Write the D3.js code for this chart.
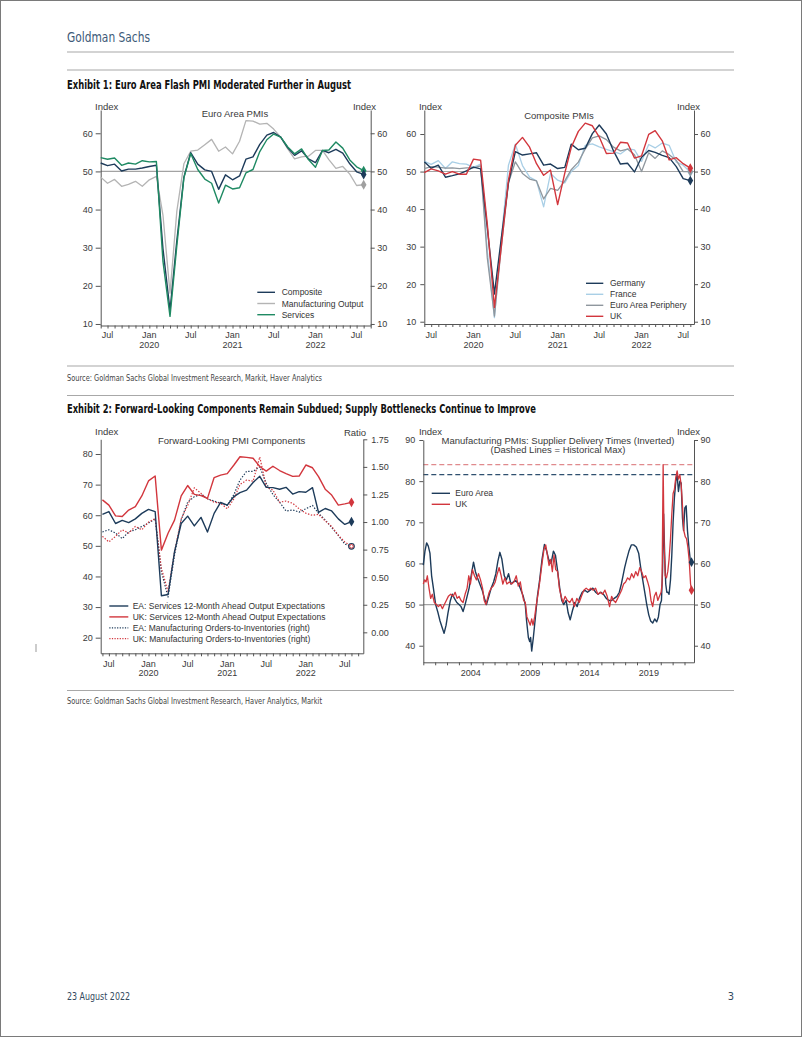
<!DOCTYPE html>
<html><head><meta charset="utf-8">
<script src="https://cdn.jsdelivr.net/npm/d3@7"></script>
<style>
html,body{margin:0;padding:0;background:#fff;}
svg{display:block;}
text{font-family:"Liberation Sans",Arial,Helvetica,sans-serif;}
</style></head><body>
<svg id="page" width="802" height="1037"></svg>
<script>
// ---------------- DATA ----------------
// Monthly series start Jun 2019, end Aug 2022 (39 months)
const firstMonth = [2019, 5];
const euroComposite = [52.2,51.5,51.9,50.1,50.6,50.6,50.9, 51.3,51.6,29.7,13.6,31.9,48.5,54.9,51.9,50.4,50.0,45.3,49.1, 47.8,48.8,53.2,53.8,57.1,59.5,60.2,59.0,56.2,54.2,55.4,53.3, 52.3,55.5,54.9,55.8,54.8,52.0,49.9,49.2];
const euroMfgOutput = [48.5,46.9,47.9,46.1,46.6,47.4,46.1, 47.8,48.7,38.5,18.1,39.6,52.0,55.3,55.6,57.0,58.4,55.3,56.4, 54.6,57.9,63.3,63.2,62.4,62.6,61.1,59.0,55.9,53.3,53.8,54.0, 55.5,55.5,53.1,50.8,51.3,49.3,46.3,46.5];
const euroServices = [53.6,53.2,53.5,51.6,52.2,51.9,52.8, 52.5,52.6,26.4,12.0,30.5,48.3,54.7,50.5,48.0,46.9,41.7,46.4, 45.4,45.7,49.6,50.5,55.2,58.3,59.8,59.0,56.4,54.6,55.9,53.1, 51.1,55.5,55.6,57.7,56.1,53.0,51.2,50.2];

const germanyComp = [52.6,50.9,51.7,48.5,48.9,49.4,50.2, 51.2,50.7,35.0,17.4,32.3,47.0,55.3,54.4,54.7,55.0,51.7,52.0, 50.8,51.1,57.3,55.8,56.2,60.1,62.4,60.0,55.5,52.0,52.2,49.9, 53.8,55.6,55.1,54.3,53.7,51.3,48.1,47.6];
const franceComp = [52.7,51.9,52.9,50.8,52.6,52.1,52.0, 51.1,52.0,28.9,11.1,32.1,51.7,57.3,51.6,48.5,47.5,40.6,49.5, 47.7,47.0,50.0,51.6,57.0,57.4,56.6,55.9,55.3,54.7,56.1,55.8, 52.7,57.2,56.3,57.6,57.0,52.5,51.7,49.8];
const peripheryComp = [50.8,51.3,51.2,50.9,51.0,50.8,51.0, 51.0,51.5,27.0,11.5,30.0,47.0,52.6,49.5,48.0,47.5,42.7,45.5, 45.0,47.5,50.5,52.5,56.0,59.0,59.5,58.5,56.5,55.5,56.0,54.5, 50.0,55.0,53.5,55.5,54.5,53.0,50.0,50.0];
const ukComp = [49.7,50.7,50.2,49.3,50.0,49.3,49.3, 53.3,53.0,36.0,13.8,30.0,47.7,57.0,59.1,56.5,52.1,49.0,50.4, 41.2,49.6,56.4,60.7,62.9,62.2,59.2,54.8,54.9,57.8,57.6,53.6, 54.2,59.9,60.9,58.2,53.1,53.7,52.1,50.9];

const eaSvcExpect = [60.3,61.2,57.3,58.3,57.6,58.8,60.6, 61.9,61.2,33.7,34.1,48.1,57.3,59.7,56.5,59.3,54.5,60.6,64.2, 63.3,66.1,67.4,68.2,70.7,72.7,69.1,69.0,68.5,69.1,66.9,67.7, 67.5,69.0,60.9,62.2,61.4,58.8,57.0,57.9];
const ukSvcExpect = [65.0,63.3,59.8,59.6,61.7,62.8,66.3, 71.2,72.8,48.6,54.1,58.4,66.3,69.7,66.8,66.4,65.5,72.3,73.1, 73.6,76.4,79.1,78.9,78.6,75.9,74.4,76.0,74.6,73.6,72.7,72.8, 76.4,75.5,72.6,68.5,66.6,63.3,63.7,64.2];
const eaOrdInv = [0.91,0.93,0.90,0.85,0.91,0.93,0.96, 0.99,1.03,0.55,0.32,0.70,1.02,1.18,1.23,1.25,1.21,1.19,1.17, 1.15,1.25,1.38,1.46,1.46,1.50,1.35,1.25,1.18,1.10,1.11,1.09, 1.12,1.15,1.08,1.02,0.95,0.88,0.80,0.78];
const ukOrdInv = [0.87,0.82,0.87,0.93,0.90,0.96,0.93, 1.00,1.03,0.58,0.37,0.73,1.03,1.15,1.31,1.26,1.21,1.18,1.17, 1.12,1.21,1.34,1.38,1.37,1.59,1.32,1.29,1.18,1.19,1.17,1.12, 1.08,1.06,1.07,1.01,0.96,0.88,0.82,0.78];

// Supplier delivery times (inverted) (decimal years)
const eaSdtYears = [2000.00,2000.14,2000.28,2000.42,2000.56,2000.70,2000.85,2001.04,2001.24,2001.41,2001.58,2001.75,2001.92,2002.08,2002.28,2002.45,2002.62,2002.82,2003.01,2003.18,2003.35,2003.52,2003.69,2003.86,2004.06,2004.23,2004.39,2004.56,2004.76,2004.96,2005.15,2005.32,2005.52,2005.72,2005.92,2006.11,2006.28,2006.45,2006.62,2006.82,2006.99,2007.18,2007.38,2007.58,2007.80,2008.03,2008.23,2008.42,2008.59,2008.70,2008.85,2008.96,2009.04,2009.13,2009.27,2009.41,2009.61,2009.80,2010.00,2010.20,2010.39,2010.56,2010.76,2010.96,2011.13,2011.32,2011.49,2011.66,2011.83,2012.03,2012.20,2012.37,2012.56,2012.76,2012.96,2013.15,2013.38,2013.61,2013.83,2014.06,2014.28,2014.51,2014.73,2014.96,2015.18,2015.41,2015.63,2015.86,2016.08,2016.31,2016.51,2016.68,2016.82,2016.96,2017.13,2017.32,2017.52,2017.72,2017.94,2018.14,2018.31,2018.48,2018.65,2018.82,2018.99,2019.15,2019.32,2019.49,2019.66,2019.80,2019.94,2020.06,2020.15,2020.24,2020.33,2020.42,2020.51,2020.59,2020.70,2020.82,2020.93,2021.04,2021.15,2021.27,2021.38,2021.49,2021.61,2021.72,2021.83,2021.92,2022.03,2022.14,2022.25,2022.37,2022.48,2022.59];
const eaSdtValues = [59.6,63,65.0,64.2,62.5,57,54,50,48,46,44.5,43.0,45,48,51,52.5,51.5,50.5,50,49.5,48.3,50,52,54,57.5,60.3,58,56.5,55,53.5,51.5,50,52,54,55.5,57.5,60.5,62.7,61,57,56,57.5,55,55.5,55.8,55,53.5,52,50,46,42,41,42,38.7,42,46,52,56,61,64.6,63,61,60,63,62,58,54,51,50,51,48,46.3,48.5,50.5,49.5,51.5,53,53.5,53,53.5,54,53,52.5,53,52.5,51.5,51,51,51.5,52,53,55,57,59,61,63,64.5,64.5,64,62.5,59,56,53,50,47.5,46,45.5,46.5,45.8,47,50,51,58,72,62,55,53,53,52.5,56,62,70,76,80,81.5,77.5,80,79.5,71,68,73.5,74,68,64,61,60.3];
const ukSdtYears = [2000.00,2000.11,2000.23,2000.34,2000.48,2000.62,2000.76,2000.93,2001.10,2001.27,2001.44,2001.61,2001.77,2001.94,2002.11,2002.31,2002.51,2002.68,2002.85,2003.01,2003.18,2003.35,2003.52,2003.69,2003.83,2003.97,2004.14,2004.31,2004.48,2004.65,2004.82,2004.99,2005.13,2005.27,2005.41,2005.55,2005.72,2005.89,2006.06,2006.23,2006.39,2006.56,2006.70,2006.87,2007.04,2007.24,2007.44,2007.63,2007.83,2008.00,2008.17,2008.31,2008.45,2008.59,2008.73,2008.87,2009.01,2009.13,2009.24,2009.38,2009.52,2009.66,2009.83,2010.00,2010.17,2010.31,2010.45,2010.59,2010.73,2010.87,2011.01,2011.15,2011.32,2011.46,2011.61,2011.77,2011.94,2012.14,2012.34,2012.54,2012.73,2012.93,2013.13,2013.32,2013.52,2013.72,2013.92,2014.11,2014.31,2014.51,2014.70,2014.90,2015.10,2015.30,2015.49,2015.69,2015.86,2016.03,2016.20,2016.37,2016.54,2016.70,2016.87,2017.04,2017.21,2017.38,2017.55,2017.72,2017.89,2018.06,2018.23,2018.39,2018.56,2018.73,2018.90,2019.04,2019.18,2019.32,2019.46,2019.61,2019.75,2019.89,2020.03,2020.11,2020.20,2020.28,2020.37,2020.48,2020.59,2020.70,2020.82,2020.93,2021.04,2021.15,2021.27,2021.38,2021.49,2021.61,2021.72,2021.83,2021.94,2022.06,2022.17,2022.28,2022.39,2022.51,2022.59];
const ukSdtValues = [55,56,55.5,57,54,51.5,52.5,50.5,50,49.5,50,49,50,51,52,52.5,52,53,51.5,52,51,50.5,52.5,54,57,55,58.5,57,56,57.5,56,54,51,50,51.5,53,54,54.5,55.5,57.5,59,57,55,56.5,55,55.5,55,55.5,57,54.5,55.5,53,51,50.5,47,46,45,46.5,45,47,50,52.5,56,60,63.5,64.5,62,59.5,61,58,62,58.5,58,54,52,50.5,52,51,50.5,51.5,49.5,51.5,50.5,52,53.5,54,53.5,54,53.5,54,52.5,53,52.5,53.5,52,49.5,52,51,50.5,51.5,52.5,53.5,55,55.5,56.5,56,57.5,56.5,58,57,59,58,56.5,57,55.5,54,51,49.5,52,53,51,52,53,55,84,65,57,56.5,58,61,66,72,77,78,81,82.5,80.5,81.5,79,74,68,66.5,66,64,61,55,53.5];
const eaSdtMax = 81.6;
const ukSdtMax = 84.0;

// Tick values / labels
const pmiTicks = [10,20,30,40,50,60];
const expectTicks = [20,30,40,50,60,70,80];
const ratioTicks = [0,0.25,0.5,0.75,1,1.25,1.5,1.75];
const sdtTicks = [40,50,60,70,80,90];
const sdtYearLabels = [2004,2009,2014,2019];

// ---------------- PAGE ----------------
const svg = d3.select("#page");
const NARROW = '"Liberation Sans Narrow","DejaVu Sans Condensed","Roboto Condensed","Liberation Sans",sans-serif';
const C = {navy:"#1d3b5a", green:"#1f8a63", gray:"#b4b4b4", lblue:"#a9cfe6", pgray:"#8f979e", red:"#d2363d", axis:"#555", txt:"#3a3a3a"};
const TF = 9; // tick label font size

svg.append("rect").attr("x",0.5).attr("y",0.5).attr("width",801).attr("height",1036).attr("fill","none").attr("stroke","#7a7a7a");

function hline(y){ svg.append("line").attr("x1",67).attr("x2",734).attr("y1",y).attr("y2",y).attr("stroke","#a8a8a8").attr("stroke-width",1.2); }
function ptext(x,y,s,size,opts={}){
  const t = svg.append("text").attr("x",x).attr("y",y).text(s).attr("font-size",size)
    .style("font-family",NARROW).attr("fill",opts.fill||"#111");
  if(opts.bold) t.attr("font-weight","bold");
  if(opts.len) t.attr("textLength",opts.len).attr("lengthAdjust","spacingAndGlyphs");
  if(opts.anchor) t.attr("text-anchor",opts.anchor);
  return t;
}
ptext(67,42,"Goldman Sachs",14.5,{fill:"#3d5a78",len:83});
hline(52); hline(70);
ptext(67,88.5,"Exhibit 1: Euro Area Flash PMI Moderated Further in August",12,{bold:true,len:284});
hline(366);
ptext(67,380.5,"Source: Goldman Sachs Global Investment Research, Markit, Haver Analytics",8.5,{fill:"#444",len:255});
hline(395.5);
ptext(67,412.5,"Exhibit 2: Forward-Looking Components Remain Subdued; Supply Bottlenecks Continue to Improve",12,{bold:true,len:469});
hline(690.5);
ptext(67,704,"Source: Goldman Sachs Global Investment Research, Haver Analytics, Markit",8.5,{fill:"#444",len:255});
ptext(67,999.5,"23 August 2022",11,{fill:"#34495e",len:63});
ptext(734,999.5,"3",11,{fill:"#34495e",anchor:"end"});
svg.append("line").attr("x1",36).attr("x2",36).attr("y1",644).attr("y2",652).attr("stroke","#999");

// ---------------- HELPERS ----------------
const monthDates = euroComposite.map((d,i)=> new Date(firstMonth[0], firstMonth[1]+i, 1));

function styleAxis(g, fs){
  g.selectAll("path.domain").attr("stroke",C.axis).attr("stroke-width",1);
  g.selectAll(".tick line").attr("stroke",C.axis);
  g.selectAll(".tick text").attr("fill",C.txt).attr("font-size",fs||TF).style("font-family",'"Liberation Sans",Arial,sans-serif');
  g.attr("font-family",null).attr("font-size",null);
}
function ctext(g,x,y,s,size,anchor,fill){
  return g.append("text").attr("x",x).attr("y",y).text(s).attr("font-size",size).attr("text-anchor",anchor||"middle").attr("fill",fill||C.txt);
}
function monthAxis(g, x, yAx, tickStart, tickEnd, l1, l2){
  const ticks = d3.timeMonth.range(tickStart, tickEnd);
  const ax = g.append("g").attr("transform",`translate(0,${yAx})`)
    .call(d3.axisBottom(x).tickValues(ticks).tickSize(3).tickSizeOuter(0).tickFormat(""));
  styleAxis(ax);
  ticks.forEach(d=>{
    if(d.getMonth()===6) ctext(g,x(d),yAx+l1,"Jul",TF);
    if(d.getMonth()===0){ ctext(g,x(d),yAx+l1,"Jan",TF); ctext(g,x(d),yAx+l2,String(d.getFullYear()),TF); }
  });
}
function drawLine(g, xs, ys, x, y, color, width, dash){
  const line = d3.line().x((d,i)=>x(xs[i])).y(d=>y(d));
  const p = g.append("path").datum(ys).attr("d",line).attr("fill","none").attr("stroke",color)
    .attr("stroke-width",width||1.3).attr("stroke-linejoin","round");
  if(dash) p.attr("stroke-dasharray",dash);
  return p;
}
function diamond(g, cx, cy, color, size){
  g.append("path").attr("d",d3.symbol(d3.symbolDiamond, size||28)()).attr("transform",`translate(${cx},${cy})`).attr("fill",color);
}
function legend(g, x0, x1, tx, y0, dy, items){
  items.forEach((it,i)=>{
    const y = y0 + i*dy;
    const l = g.append("line").attr("x1",x0).attr("x2",x1).attr("y1",y).attr("y2",y).attr("stroke",it.color).attr("stroke-width",it.w||1.4);
    if(it.dash) l.attr("stroke-dasharray",it.dash);
    ctext(g,tx,y+3,it.label,8.5,"start","#333");
  });
}

// ---------------- CHART 1 ----------------
(function(){
  const g = svg.append("g");
  const x = d3.scaleTime().domain([new Date(2019,5,1), new Date(2022,8,1)]).range([100.7,370.7]);
  const y = d3.scaleLinear().domain([9.6,66.1]).range([325.5,110]);
  g.append("line").attr("x1",100.7).attr("x2",370.7).attr("y1",y(50)).attr("y2",y(50)).attr("stroke","#a3a3a3").attr("stroke-width",1.1);
  const la = g.append("g").attr("transform","translate(100.7,0)").call(d3.axisLeft(y).tickValues(pmiTicks).tickSize(5).tickPadding(3).tickSizeOuter(0));
  styleAxis(la);
  const ra = g.append("g").attr("transform","translate(370.7,0)").call(d3.axisRight(y).tickValues(pmiTicks).tickSize(4).tickPadding(2.5).tickSizeOuter(0));
  styleAxis(ra);
  monthAxis(g, x, 325.5, new Date(2019,5,1), new Date(2022,8,2), 12.5, 22);
  drawLine(g, monthDates, euroMfgOutput, x, y, C.gray, 1.3);
  drawLine(g, monthDates, euroComposite, x, y, C.navy, 1.4);
  drawLine(g, monthDates, euroServices, x, y, C.green, 1.4);
  const last = monthDates.length-1, lx = x(monthDates[last]);
  diamond(g, lx, y(euroMfgOutput[last]), "#a0a0a0");
  diamond(g, lx, y(euroServices[last]), C.green);
  diamond(g, lx, y(euroComposite[last]), C.navy);
  ctext(g,235,116.5,"Euro Area PMIs",9.5);
  ctext(g,106.7,110,"Index",9.5);
  ctext(g,364.5,110,"Index",9.5);
  legend(g,257.3,275,281.7,292.3,11.2,[
    {label:"Composite",color:C.navy},{label:"Manufacturing Output",color:C.gray},{label:"Services",color:C.green}]);
})();

// ---------------- CHART 2 ----------------
(function(){
  const g = svg.append("g");
  const x = d3.scaleTime().domain([new Date(2019,5,1), new Date(2022,7,17)]).range([424.3,694]);
  const y = d3.scaleLinear().domain([9.39,66.4]).range([324,110]);
  g.append("line").attr("x1",424.3).attr("x2",694).attr("y1",y(50)).attr("y2",y(50)).attr("stroke","#a3a3a3").attr("stroke-width",1.1);
  const la = g.append("g").attr("transform","translate(424.3,0)").call(d3.axisLeft(y).tickValues(pmiTicks).tickSize(4).tickPadding(4).tickSizeOuter(0));
  styleAxis(la);
  const ra = g.append("g").attr("transform","translate(694,0)").call(d3.axisRight(y).tickValues(pmiTicks).tickSize(4).tickPadding(2.5).tickSizeOuter(0));
  styleAxis(ra);
  monthAxis(g, x, 324, new Date(2019,5,1), new Date(2022,7,17), 13.5, 23.5);
  drawLine(g, monthDates, franceComp, x, y, C.lblue, 1.3);
  drawLine(g, monthDates, peripheryComp, x, y, C.pgray, 1.3);
  drawLine(g, monthDates, germanyComp, x, y, C.navy, 1.4);
  drawLine(g, monthDates, ukComp, x, y, C.red, 1.4);
  const last = monthDates.length-1, lx = x(monthDates[last]);
  diamond(g, lx, y(franceComp[last]), C.lblue);
  diamond(g, lx, y(peripheryComp[last]), C.pgray);
  diamond(g, lx, y(ukComp[last]), C.red);
  diamond(g, lx, y(germanyComp[last]), C.navy);
  ctext(g,559,119,"Composite PMIs",9.5);
  ctext(g,430.5,110,"Index",9.5);
  ctext(g,688.5,110,"Index",9.5);
  legend(g,586,603.3,610,283.3,11,[
    {label:"Germany",color:C.navy},{label:"France",color:C.lblue},{label:"Euro Area Periphery",color:C.pgray},{label:"UK",color:C.red}]);
})();

// ---------------- CHART 3 ----------------
(function(){
  const g = svg.append("g");
  const x = d3.scaleTime().domain([new Date(2019,4,24), new Date(2022,8,25)]).range([100.7,363.3]);
  const y = d3.scaleLinear().domain([14.9,84.8]).range([653.3,439.3]);
  const yr = d3.scaleLinear().domain([-0.19,1.75]).range([653.3,439.3]);
  const la = g.append("g").attr("transform","translate(100.7,0)").call(d3.axisLeft(y).tickValues(expectTicks).tickSize(5).tickPadding(3).tickSizeOuter(0));
  styleAxis(la);
  const ra = g.append("g").attr("transform","translate(363.3,0)").call(d3.axisRight(yr).tickValues(ratioTicks).tickSize(4).tickPadding(4).tickSizeOuter(0).tickFormat(d3.format(".2f")));
  styleAxis(ra);
  monthAxis(g, x, 653.3, new Date(2019,5,1), new Date(2022,8,25), 14, 22.5);
  drawLine(g, monthDates, eaOrdInv, x, yr, C.navy, 1.2, "1.4,1.6");
  drawLine(g, monthDates, ukOrdInv, x, yr, C.red, 1.2, "1.4,1.6");
  drawLine(g, monthDates, eaSvcExpect, x, y, C.navy, 1.4);
  drawLine(g, monthDates, ukSvcExpect, x, y, C.red, 1.4);
  const last = monthDates.length-1, lx = x(monthDates[last]);
  diamond(g, lx, y(eaSvcExpect[last]), C.navy);
  diamond(g, lx, y(ukSvcExpect[last]), C.red);
  g.append("circle").attr("cx",lx).attr("cy",yr(eaOrdInv[last])).attr("r",2.8).attr("fill","#fff").attr("stroke",C.navy).attr("stroke-width",1.2);
  g.append("circle").attr("cx",lx).attr("cy",yr(ukOrdInv[last])).attr("r",1.8).attr("fill","none").attr("stroke",C.red).attr("stroke-width",1);
  ctext(g,231.7,444,"Forward-Looking PMI Components",9.5);
  ctext(g,106.7,435,"Index",9.5);
  ctext(g,355,435.5,"Ratio",9.5);
  legend(g,109.3,128.3,132.7,606,10.9,[
    {label:"EA: Services 12-Month Ahead Output Expectations",color:C.navy},
    {label:"UK: Services 12-Month Ahead Output Expectations",color:C.red},
    {label:"EA: Manufacturing Orders-to-Inventories (right)",color:C.navy,dash:"1.2,1.4",w:1.2},
    {label:"UK: Manufacturing Orders-to-Inventories (right)",color:C.red,dash:"1.2,1.4",w:1.2}]);
})();

// ---------------- CHART 4 ----------------
(function(){
  const g = svg.append("g");
  const x = d3.scaleLinear().domain([2000,2022.8]).range([423.3,694]);
  const y = d3.scaleLinear().domain([35.97,90]).range([662.3,440]);
  g.append("line").attr("x1",423.3).attr("x2",694).attr("y1",y(50)).attr("y2",y(50)).attr("stroke","#a3a3a3").attr("stroke-width",1.1);
  g.append("line").attr("x1",423.3).attr("x2",694).attr("y1",y(ukSdtMax)).attr("y2",y(ukSdtMax)).attr("stroke","#e08a8d").attr("stroke-width",1.2).attr("stroke-dasharray","5,3");
  g.append("line").attr("x1",423.3).attr("x2",694).attr("y1",y(eaSdtMax)).attr("y2",y(eaSdtMax)).attr("stroke","#2f506f").attr("stroke-width",1.2).attr("stroke-dasharray","5,3");
  const la = g.append("g").attr("transform","translate(423.3,0)").call(d3.axisLeft(y).tickValues(sdtTicks).tickSize(4).tickPadding(4).tickSizeOuter(0));
  styleAxis(la);
  const ra = g.append("g").attr("transform","translate(694,0)").call(d3.axisRight(y).tickValues(sdtTicks).tickSize(4).tickPadding(2.5).tickSizeOuter(0));
  styleAxis(ra);
  const ba = g.append("g").attr("transform","translate(0,662.3)").call(d3.axisBottom(x).tickValues(d3.range(2000,2023)).tickSize(3).tickSizeOuter(0).tickFormat(""));
  styleAxis(ba);
  sdtYearLabels.forEach(yy=>ctext(g,x(yy),675.5,String(yy),TF));
  drawLine(g, eaSdtYears, eaSdtValues, x, y, C.navy, 1.4);
  drawLine(g, ukSdtYears, ukSdtValues, x, y, C.red, 1.3);
  diamond(g, x(eaSdtYears[eaSdtYears.length-1]), y(eaSdtValues[eaSdtValues.length-1]), C.navy);
  diamond(g, x(ukSdtYears[ukSdtYears.length-1]), y(ukSdtValues[ukSdtValues.length-1]), C.red);
  ctext(g,558,443.5,"Manufacturing PMIs: Supplier Delivery Times (Inverted)",9.5);
  ctext(g,558,453,"(Dashed Lines = Historical Max)",9.5);
  ctext(g,430.5,435,"Index",9.5);
  ctext(g,688.5,435,"Index",9.5);
  legend(g,431.7,450,455.3,493.3,11,[{label:"Euro Area",color:C.navy},{label:"UK",color:C.red}]);
})();
</script>
</body></html>
